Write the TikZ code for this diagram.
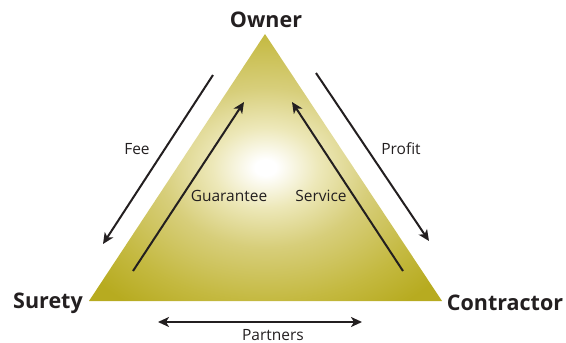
\documentclass[tikz,border=0pt]{standalone}
\usepackage{fontspec}
\setmainfont{Open Sans}
\usetikzlibrary{arrows.meta}
\definecolor{ink}{RGB}{35,31,32}
\definecolor{oliveA}{RGB}{183,171,32}
\definecolor{oliveB}{RGB}{196,185,64}
\definecolor{oliveM}{RGB}{215,206,122}
\definecolor{oliveC}{RGB}{237,232,185}
\pgfdeclareradialshading{triglow}{\pgfpoint{0bp}{0bp}}{color(0bp)=(white); color(1.5bp)=(white); color(7.5bp)=(oliveC); color(15bp)=(oliveM); color(25bp)=(oliveB); color(32bp)=(oliveA); color(50bp)=(oliveA)}
\tikzset{
  flow/.style={line width=2pt, draw=ink, -{Stealth[length=11pt,width=10pt,inset=3pt]}},
  both/.style={line width=2pt, draw=ink, {Stealth[length=11pt,width=10pt,inset=3pt]}-{Stealth[length=11pt,width=10pt,inset=3pt]}},
  party/.style={font=\bfseries\fontsize{21.5}{24}\selectfont, text=ink, inner sep=0pt},
  lab/.style={font=\fontsize{15.5}{18}\selectfont, text=ink, inner sep=0pt}
}
\begin{document}
\begin{tikzpicture}[x=1pt,y=-1pt]
\useasboundingbox (0,0) rectangle (566,343);
% triangle
\coordinate (apex) at (265,34);
\coordinate (bl) at (89,301);
\coordinate (br) at (442,301);
\shade[shading=triglow] (apex) -- (bl) -- (br) -- cycle;
% party labels
\node[party] (owner) at (266,20) {Owner};
\node[party] (surety) at (48,303) {Surety};
\node[party] (contractor) at (505,303) {Contractor};
% arrow end points
\coordinate (feeS) at (213,75);
\coordinate (feeE) at (103,244);
\coordinate (guaS) at (133,271);
\coordinate (guaE) at (244,102);
\coordinate (serS) at (403,271);
\coordinate (serE) at (292,102);
\coordinate (proS) at (316,73);
\coordinate (proE) at (429,241);
\coordinate (parS) at (158,322);
\coordinate (parE) at (362,322);
\draw[flow] (feeS) -- (feeE);
\draw[flow] (guaS) -- (guaE);
\draw[flow] (serS) -- (serE);
\draw[flow] (proS) -- (proE);
\draw[both] (parS) -- (parE);
% labels
\node[lab] (fee) at (137,149) {Fee};
\node[lab] (profit) at (401,149) {Profit};
\node[lab] (guarantee) at (229,196) {Guarantee};
\node[lab] (service) at (321,196) {Service};
\node[lab] (partners) at (273,335) {Partners};
\end{tikzpicture}
\end{document}
